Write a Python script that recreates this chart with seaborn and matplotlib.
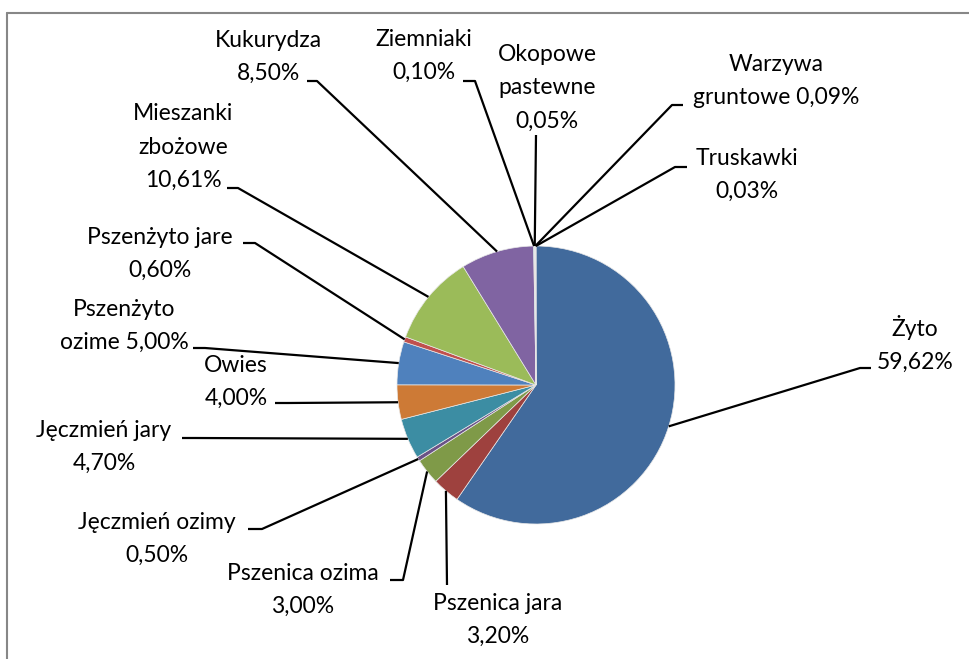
"""
Pie chart of crop shares (Polish labels) with Excel-style leader lines.
"""
import numpy as np
import matplotlib
matplotlib.use("Agg")
import matplotlib.pyplot as plt
from matplotlib.lines import Line2D
import seaborn as sns

# data (clockwise from 12 o'clock)
crops = [
    "Żyto", "Pszenica jara", "Pszenica ozima", "Jęczmień ozimy",
    "Jęczmień jary", "Owies", "Pszenżyto\nozime", "Pszenżyto jare",
    "Mieszanki\nzbożowe", "Kukurydza", "Ziemniaki", "Okopowe\npastewne",
    "Warzywa\ngruntowe", "Truskawki",
]
shares = [59.62, 3.20, 3.00, 0.50, 4.70, 4.00, 5.00, 0.60,
          10.61, 8.50, 0.10, 0.05, 0.09, 0.03]
value_sep = ["\n", "\n", "\n", "\n", "\n", "\n", " ", "\n",
             "\n", "\n", "\n", "\n", " ", "\n"]

colors = ["#416A9C", "#9E413E", "#7F9A48", "#6A5287", "#3C8DA3", "#CD7A36",
          "#4F81BD", "#C0504D", "#9BBB59", "#8064A2", "#4BACC6", "#F79646",
          "#A9BDD9", "#D9A6A4"]

# layout in pixels of the 969x659 picture: label centre, elbow, stub end
label_xy = [(915, 344), (498, 620), (303, 590), (157, 539), (104, 447),
            (236, 382), (124, 326), (160, 254), (183, 147), (268, 57),
            (424, 56), (547, 88), (776, 81), (747, 175)]
elbow_xy = [(860, 368), (447, 585), (403, 580), (262, 529), (195, 438),
            (288, 403), (205, 348), (255, 243), (238, 188), (317, 81),
            (475, 81), (536, 135), (672, 105), (675, 167)]
stub_xy = [(871, 368), None, (390, 580), (248, 529), (182, 438),
           (275, 403), (193, 348), (243, 243), (227, 188), (307, 81),
           (463, 81), None, (683, 105), (687, 167)]

W, H = 969, 659
CX, CY, R = 536, 385, 139


def px(x, y):
    return (x - CX) / R, (CY - y) / R


sns.set_style("white")
plt.rcParams["font.family"] = ["Lato", "DejaVu Sans"]

fig = plt.figure(figsize=(W / 100, H / 100), dpi=100)
ax = fig.add_axes([0, 0, 1, 1])

wedges, _ = ax.pie(
    shares, colors=colors, startangle=90, counterclock=False, radius=1,
    wedgeprops=dict(edgecolor="#e8e8e8", linewidth=0.5),
)

for i, w in enumerate(wedges):
    mid = np.deg2rad((w.theta1 + w.theta2) / 2)
    pts = [(np.cos(mid), np.sin(mid)), px(*elbow_xy[i])]
    if stub_xy[i] is not None:
        pts.append(px(*stub_xy[i]))
    xs, ys = zip(*pts)
    ax.plot(xs, ys, color="black", lw=1.6, solid_capstyle="butt", zorder=3)

    txt = f"{crops[i]}{value_sep[i]}{shares[i]:.2f}%".replace(".", ",")
    tx, ty = px(*label_xy[i])
    ax.text(tx, ty, txt, ha="center", va="center", fontsize=16.5,
            linespacing=1.72, color="black")

ax.set_xlim(-CX / R, (W - CX) / R)
ax.set_ylim((CY - H) / R, CY / R)
ax.set_aspect("equal", adjustable="box")
ax.axis("off")

# chart area frame (only top and left edges are visible in the picture)
frame = dict(color="#878787", lw=1.5, transform=fig.transFigure)
fig.add_artist(Line2D([6.5 / W, 1], [1 - 12.5 / H, 1 - 12.5 / H], **frame))
fig.add_artist(Line2D([6.5 / W, 6.5 / W], [0, 1 - 12.5 / H], **frame))

fig.savefig("out.png", dpi=100)
